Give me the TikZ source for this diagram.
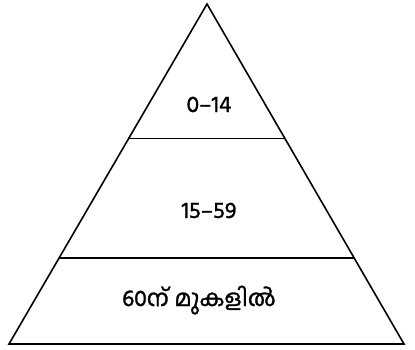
\documentclass[tikz,border=0pt]{standalone}
\usepackage{fontspec}
\usepackage{tikz}
\usetikzlibrary{positioning, calc}
\newfontfamily\mlfont[Script=Malayalam, FakeBold=1.2]{Hind Kochi}
\tikzset{
  pyramid/.style={draw=black, line width=1.6pt, line join=miter},
  divider/.style={draw=black, line width=1.6pt},
  agelabel/.style={font=\mlfont\fontsize{23}{26}\selectfont, anchor=base, inner sep=0pt}
}

\begin{document}
\begin{tikzpicture}[x=1pt, y=-1pt]
  \useasboundingbox (0,0) rectangle (415,349);
  % outline
  \coordinate (apex) at (207,4);
  \coordinate (bl) at (9,344);
  \coordinate (br) at (404,344);
  \draw[pyramid] (apex) -- (bl) -- (br) -- cycle;
  % tiers
  \coordinate (l1) at ($(apex)!0.395!(bl)$);
  \coordinate (r1) at ($(apex)!0.395!(br)$);
  \coordinate (l2) at ($(apex)!0.747!(bl)$);
  \coordinate (r2) at ($(apex)!0.747!(br)$);
  \draw[divider] (l1) -- (r1);
  \draw[divider] (l2) -- (r2);
  \node[agelabel] (young) at (209,112) {0–14};
  \node[agelabel] (adult) at (209,218) {15–59};
  \node[agelabel] (old) at (199,306) {60ന് മുകളിൽ};
\end{tikzpicture}
\end{document}
